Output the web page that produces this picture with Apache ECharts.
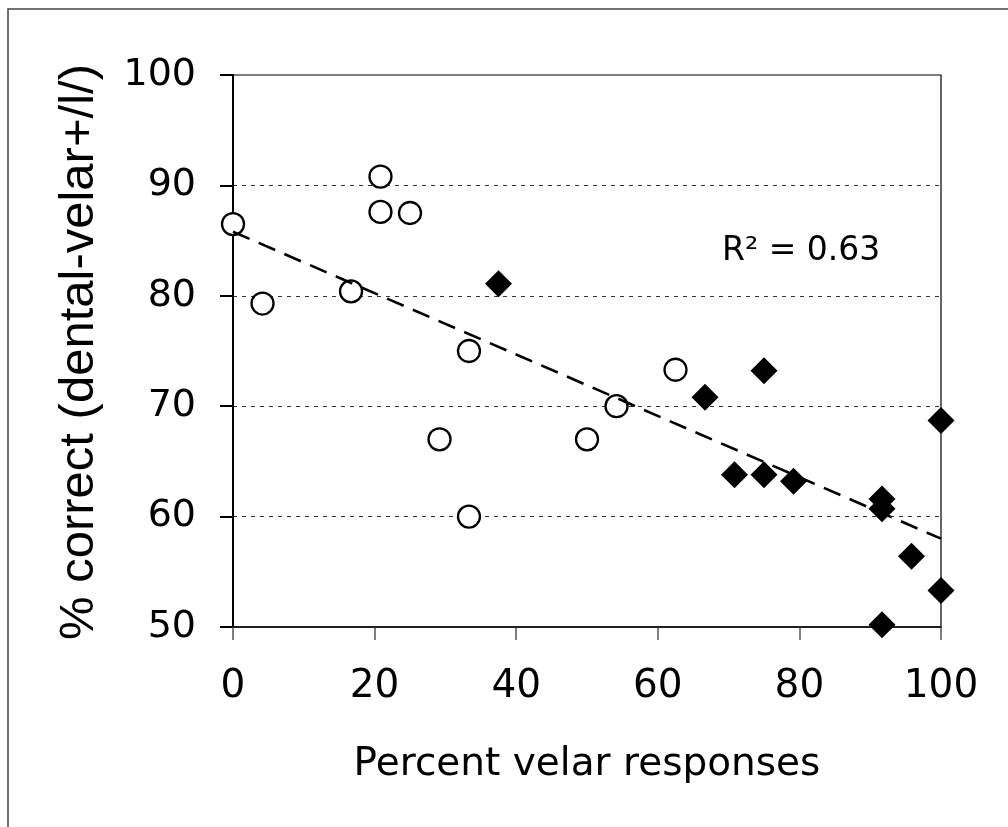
<!DOCTYPE html>
<html>
<head>
<meta charset="utf-8">
<script src="https://cdn.jsdelivr.net/npm/echarts@6/dist/echarts.min.js"></script>
<style>
html,body{margin:0;padding:0;background:#fff;}
#chart{width:1008px;height:827px;}
</style>
</head>
<body>
<div id="chart"></div>
<script>
// Open circles group
const circleX = [0, 4.17, 16.67, 20.83, 20.83, 25, 29.17, 33.33, 33.33, 50, 54.17, 62.5];
const circleY = [86.5, 79.3, 80.4, 90.8, 87.6, 87.5, 67.0, 75.0, 60.0, 67.0, 70.0, 73.3];
// Filled diamonds group
const diamondX = [37.5, 66.67, 70.83, 75, 75, 79.17, 91.67, 91.67, 91.67, 95.83, 100, 100];
const diamondY = [81.1, 70.8, 63.8, 73.2, 63.8, 63.2, 61.6, 60.7, 50.2, 56.4, 68.7, 53.3];
// Linear trend line endpoints
const trendX = [0, 100];
const trendY = [85.8, 58.0];
const xTicks = [0, 20, 40, 60, 80, 100];
const yTicks = [50, 60, 70, 80, 90, 100];
const xTitle = 'Percent velar responses';
const yTitle = '% correct (dental-velar+/l/)';
const r2Label = 'R² = 0.63';

const zip = (a, b) => a.map((v, i) => [v, b[i]]);

const chart = echarts.init(document.getElementById('chart'), null, {renderer: 'canvas'});
const tickFont = 'DejaVu Sans';
chart.setOption({
  animation: false,
  backgroundColor: '#fff',
  grid: {left: 233, top: 75, right: 67, bottom: 200, show: true, borderColor: '#000', borderWidth: 1.2, backgroundColor: 'transparent', z: 1},
  xAxis: {
    type: 'value', min: xTicks[0], max: xTicks[xTicks.length - 1], interval: 20,
    axisLine: {show: true, onZero: false, lineStyle: {color: '#000', width: 1.5}},
    axisTick: {show: true, inside: false, length: 13, lineStyle: {color: '#555', width: 1.5}},
    axisLabel: {fontFamily: tickFont, fontSize: 39, color: '#000', margin: 40},
    splitLine: {show: false}
  },
  yAxis: {
    type: 'value', min: yTicks[0], max: yTicks[yTicks.length - 1], interval: 10,
    axisLine: {show: true, onZero: false, lineStyle: {color: '#000', width: 2}},
    axisTick: {show: true, inside: false, length: 13, lineStyle: {color: '#000', width: 2}},
    axisLabel: {fontFamily: tickFont, fontSize: 38, color: '#000', margin: 37},
    splitLine: {show: true, showMinLine: false, showMaxLine: false, lineStyle: {color: '#333', width: 1, type: [4, 5]}}
  },
  series: [
    {
      type: 'scatter', name: 'circles', data: zip(circleX, circleY),
      symbol: 'circle', symbolSize: 22,
      itemStyle: {color: '#fff', borderColor: '#000', borderWidth: 2.3, opacity: 1},
      z: 3
    },
    {
      type: 'scatter', name: 'diamonds', data: zip(diamondX, diamondY),
      symbol: 'diamond', symbolSize: 27,
      itemStyle: {color: '#000', borderColor: '#000', borderWidth: 0, opacity: 1},
      z: 3
    },
    {
      type: 'line', name: 'trend', data: zip(trendX, trendY),
      showSymbol: false, symbol: 'none',
      lineStyle: {color: '#000', width: 2.6, type: [18, 10]},
      z: 4
    }
  ],
  graphic: [
    {type: 'rect', shape: {x: 8, y: 9, width: 1200, height: 1000}, style: {fill: 'none', stroke: '#444', lineWidth: 1.5}, silent: true},
    {type: 'text', x: 587, y: 765, style: {text: xTitle, font: '39px "DejaVu Sans"', fill: '#000', textAlign: 'center', textVerticalAlign: 'middle'}},
    {type: 'text', x: 79, y: 352, rotation: Math.PI / 2, style: {text: yTitle, font: '49px "Liberation Sans"', fill: '#000', textAlign: 'center', textVerticalAlign: 'middle'}},
    {type: 'text', x: 722, y: 251, style: {text: r2Label, font: '33px "DejaVu Sans"', fill: '#000', textAlign: 'left', textVerticalAlign: 'middle'}}
  ]
});
</script>
</body>
</html>
